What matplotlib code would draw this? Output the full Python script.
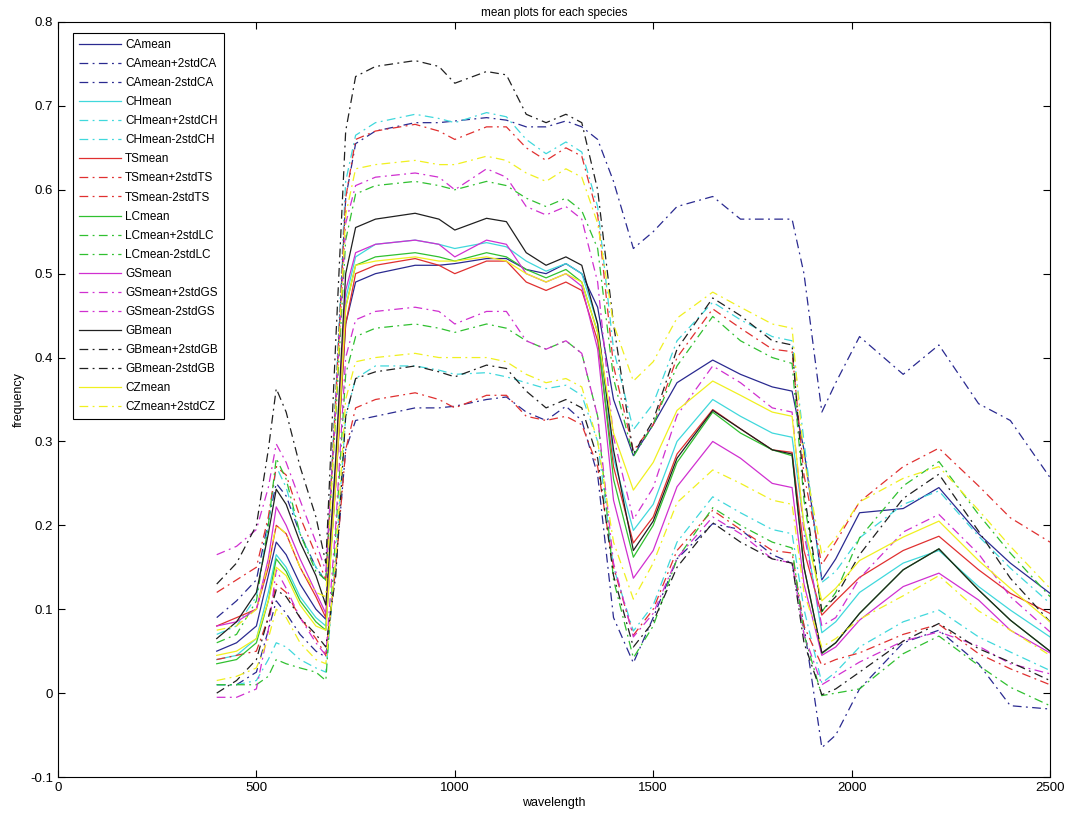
import matplotlib
matplotlib.use("Agg")
import matplotlib.pyplot as plt

wavelength = [400, 450, 500, 530, 550, 575, 610, 650, 675, 700,
              725, 750, 800, 900, 960, 1000, 1080, 1130, 1180, 1230,
              1280, 1320, 1360, 1400, 1450, 1500, 1560, 1650, 1720, 1800,
              1850, 1880, 1925, 1960, 2020, 2130, 2220, 2320, 2400, 2500]

CA_mean = [0.050, 0.060, 0.080, 0.140, 0.180, 0.165, 0.130, 0.100, 0.088, 0.250,
           0.440, 0.490, 0.500, 0.510, 0.510, 0.512, 0.518, 0.518, 0.505, 0.500,
           0.512, 0.500, 0.460, 0.350, 0.283, 0.320, 0.370, 0.397, 0.380, 0.365,
           0.360, 0.290, 0.135, 0.160, 0.215, 0.220, 0.245, 0.190, 0.155, 0.119]
CA_2std = [0.040, 0.050, 0.055, 0.065, 0.070, 0.070, 0.060, 0.050, 0.045, 0.100,
           0.150, 0.165, 0.170, 0.170, 0.170, 0.170, 0.168, 0.165, 0.170, 0.175,
           0.170, 0.175, 0.200, 0.260, 0.247, 0.230, 0.210, 0.195, 0.185, 0.200,
           0.205, 0.210, 0.200, 0.210, 0.210, 0.160, 0.170, 0.155, 0.170, 0.138]

CH_mean = [0.040, 0.045, 0.065, 0.120, 0.165, 0.150, 0.115, 0.090, 0.080, 0.260,
           0.470, 0.520, 0.535, 0.540, 0.535, 0.530, 0.537, 0.532, 0.515, 0.503,
           0.512, 0.500, 0.440, 0.280, 0.194, 0.225, 0.300, 0.350, 0.330, 0.310,
           0.305, 0.200, 0.072, 0.085, 0.120, 0.155, 0.170, 0.127, 0.099, 0.067]
CH_2std = [0.030, 0.035, 0.050, 0.080, 0.105, 0.095, 0.075, 0.060, 0.055, 0.100,
           0.140, 0.145, 0.145, 0.150, 0.150, 0.150, 0.155, 0.155, 0.145, 0.140,
           0.145, 0.145, 0.140, 0.130, 0.120, 0.120, 0.120, 0.116, 0.115, 0.115,
           0.115, 0.100, 0.060, 0.060, 0.065, 0.070, 0.071, 0.060, 0.050, 0.040]

TS_mean = [0.080, 0.090, 0.100, 0.150, 0.200, 0.190, 0.150, 0.115, 0.090, 0.250,
           0.440, 0.500, 0.510, 0.518, 0.510, 0.500, 0.515, 0.515, 0.490, 0.480,
           0.490, 0.480, 0.420, 0.270, 0.179, 0.210, 0.285, 0.338, 0.315, 0.290,
           0.287, 0.170, 0.093, 0.110, 0.138, 0.170, 0.187, 0.147, 0.119, 0.095]
TS_2std = [0.040, 0.045, 0.050, 0.060, 0.070, 0.070, 0.060, 0.050, 0.045, 0.100,
           0.150, 0.160, 0.160, 0.160, 0.160, 0.160, 0.160, 0.160, 0.160, 0.155,
           0.160, 0.160, 0.150, 0.120, 0.110, 0.110, 0.115, 0.120, 0.120, 0.120,
           0.120, 0.090, 0.060, 0.070, 0.090, 0.100, 0.105, 0.100, 0.090, 0.085]

LC_mean = [0.035, 0.040, 0.060, 0.110, 0.160, 0.145, 0.110, 0.085, 0.075, 0.260,
           0.460, 0.510, 0.520, 0.525, 0.520, 0.515, 0.525, 0.520, 0.505, 0.495,
           0.505, 0.490, 0.430, 0.255, 0.162, 0.200, 0.275, 0.335, 0.310, 0.290,
           0.283, 0.150, 0.047, 0.060, 0.095, 0.147, 0.172, 0.123, 0.087, 0.050]
LC_2std = [0.025, 0.030, 0.050, 0.090, 0.120, 0.110, 0.080, 0.060, 0.060, 0.070,
           0.080, 0.085, 0.085, 0.085, 0.085, 0.085, 0.085, 0.085, 0.085, 0.085,
           0.085, 0.085, 0.100, 0.120, 0.120, 0.120, 0.115, 0.114, 0.110, 0.110,
           0.110, 0.080, 0.050, 0.060, 0.090, 0.100, 0.104, 0.090, 0.080, 0.065]

GS_mean = [0.080, 0.085, 0.100, 0.160, 0.222, 0.200, 0.160, 0.120, 0.095, 0.270,
           0.480, 0.525, 0.535, 0.540, 0.535, 0.520, 0.540, 0.535, 0.500, 0.490,
           0.500, 0.485, 0.410, 0.230, 0.137, 0.170, 0.246, 0.300, 0.280, 0.250,
           0.245, 0.130, 0.045, 0.055, 0.087, 0.127, 0.143, 0.111, 0.075, 0.048]
GS_2std = [0.085, 0.090, 0.095, 0.085, 0.075, 0.075, 0.070, 0.060, 0.050, 0.070,
           0.080, 0.080, 0.080, 0.080, 0.080, 0.080, 0.085, 0.080, 0.080, 0.080,
           0.080, 0.080, 0.080, 0.075, 0.070, 0.075, 0.085, 0.090, 0.090, 0.090,
           0.090, 0.060, 0.035, 0.035, 0.050, 0.065, 0.070, 0.055, 0.040, 0.025]

GB_mean = [0.065, 0.085, 0.120, 0.190, 0.243, 0.225, 0.180, 0.140, 0.105, 0.280,
           0.500, 0.555, 0.565, 0.572, 0.565, 0.552, 0.566, 0.562, 0.525, 0.510,
           0.520, 0.510, 0.440, 0.290, 0.170, 0.205, 0.280, 0.337, 0.315, 0.290,
           0.285, 0.150, 0.048, 0.060, 0.095, 0.147, 0.172, 0.123, 0.087, 0.050]
GB_2std = [0.065, 0.070, 0.080, 0.100, 0.120, 0.110, 0.090, 0.070, 0.050, 0.140,
           0.170, 0.180, 0.182, 0.182, 0.182, 0.175, 0.175, 0.175, 0.165, 0.170,
           0.170, 0.170, 0.160, 0.150, 0.115, 0.120, 0.130, 0.134, 0.135, 0.130,
           0.130, 0.090, 0.050, 0.055, 0.070, 0.085, 0.089, 0.070, 0.050, 0.035]

CZ_mean = [0.045, 0.050, 0.065, 0.110, 0.150, 0.140, 0.105, 0.080, 0.075, 0.250,
           0.460, 0.510, 0.515, 0.520, 0.515, 0.515, 0.520, 0.515, 0.500, 0.490,
           0.500, 0.490, 0.430, 0.310, 0.242, 0.275, 0.337, 0.372, 0.355, 0.335,
           0.330, 0.200, 0.110, 0.125, 0.158, 0.186, 0.205, 0.158, 0.125, 0.085]
CZ_2std = [0.030, 0.030, 0.035, 0.045, 0.050, 0.050, 0.045, 0.040, 0.040, 0.090,
           0.110, 0.115, 0.115, 0.115, 0.115, 0.115, 0.120, 0.120, 0.120, 0.120,
           0.125, 0.125, 0.130, 0.130, 0.130, 0.120, 0.110, 0.106, 0.105, 0.105,
           0.105, 0.080, 0.055, 0.060, 0.070, 0.070, 0.065, 0.060, 0.050, 0.040]

species = ["CA", "CH", "TS", "LC", "GS", "GB", "CZ"]
means = [CA_mean, CH_mean, TS_mean, LC_mean, GS_mean, GB_mean, CZ_mean]
spreads = [CA_2std, CH_2std, TS_2std, LC_2std, GS_2std, GB_2std, CZ_2std]
colors = ["#2a2a90", "#40d8dc", "#e03030", "#30c030", "#d030d0", "#202020", "#f0f020"]

plt.rcParams['font.family'] = ['Liberation Sans', 'DejaVu Sans']
fig = plt.figure(figsize=(10.66, 8.14), dpi=100)
ax = fig.add_axes([58/1066, 37/814, 992/1066, 755/814])

dashdot = (0, (7, 3.5, 1.5, 3.5))
for name, m, s, c in zip(species, means, spreads, colors):
    up = [a + b for a, b in zip(m, s)]
    lo = [a - b for a, b in zip(m, s)]
    ax.plot(wavelength, m, color=c, lw=0.9, ls='-', label=f"{name}mean")
    ax.plot(wavelength, up, color=c, lw=0.9, ls=dashdot, label=f"{name}mean+2std{name}")
    lab = f"{name}mean-2std{name}" if name != "CZ" else "_nolegend_"
    ax.plot(wavelength, lo, color=c, lw=0.9, ls=dashdot, label=lab)

ax.set_xlim(0, 2500)
ax.set_ylim(-0.1, 0.8)
ax.set_xticks([0, 500, 1000, 1500, 2000, 2500])
ax.set_yticks([-0.1, 0, 0.1, 0.2, 0.3, 0.4, 0.5, 0.6, 0.7, 0.8])
ax.set_yticklabels(["-0.1", "0", "0.1", "0.2", "0.3", "0.4", "0.5", "0.6", "0.7", "0.8"])
ax.tick_params(direction='in', top=True, right=True, labelsize=9.5, length=5, width=0.8)
for sp in ax.spines.values():
    sp.set_linewidth(0.8)

ax.set_title("mean plots for each species", fontsize=8.5, pad=4)
ax.set_xlabel("wavelength", fontsize=9, labelpad=2)
ax.set_ylabel("frequency", fontsize=9, labelpad=4)

leg = ax.legend(loc='upper left', bbox_to_anchor=(15/992, 1 - 11/755), borderaxespad=0,
                fontsize=8.5, handlelength=3.6, labelspacing=0.6, handletextpad=0.3,
                fancybox=False, framealpha=1, edgecolor='black', borderpad=0.5)
leg.get_frame().set_linewidth(0.8)

fig.savefig("out.png", dpi=100)
